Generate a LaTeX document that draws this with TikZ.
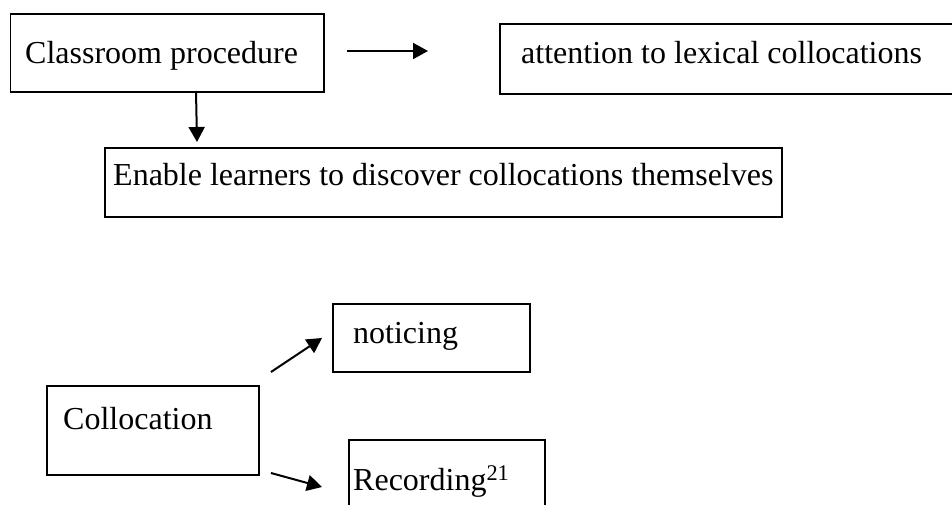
\documentclass[tikz,border=0pt]{standalone}
\usepackage{fontspec}
\setmainfont{Liberation Serif}
\usetikzlibrary{arrows.meta}
\begin{document}
\begin{tikzpicture}[x=1pt,y=-1pt,
  box/.style={draw, line width=1.5pt, inner sep=0pt, anchor=north west},
  lbl/.style={anchor=base west, inner sep=0pt, font=\fontsize{32}{38}\selectfont},
  conn/.style={line width=2pt, -{Triangle[length=15pt,width=16pt]}}]
\useasboundingbox (0,0) rectangle (952,504);
\fill[white] (0,0) rectangle (952,504);
% boxes
\node[box, minimum width=313.5pt, minimum height=78pt] (cls) at (9.5,13) {};
\node[box, minimum width=470pt, minimum height=70pt] (att) at (499,23) {};
\node[box, minimum width=677pt, minimum height=69pt] (enb) at (104,147) {};
\node[box, minimum width=197pt, minimum height=68pt] (ntc) at (332,303) {};
\node[box, minimum width=212pt, minimum height=89pt] (col) at (46,385) {};
\node[box, minimum width=196pt, minimum height=75pt] (rec) at (348,439) {};
% texts
\node[lbl] (clsT) at (25,63) {Classroom procedure};
\node[lbl] (attT) at (521,63) {attention to lexical collocations};
\node[lbl] (enbT) at (113,185) {Enable learners to discover collocations themselves};
\node[lbl] (ntcT) at (353,343) {noticing};
\node[lbl] (colT) at (63,429) {Collocation};
\node[lbl] (recT) at (353,490) {Recording\textsuperscript{21}};
% arrow ends
\coordinate (a1s) at (347,51);
\coordinate (a1e) at (428,51);
\coordinate (a2s) at (196,91);
\coordinate (a2e) at (197,142);
\coordinate (a3s) at (271,372);
\coordinate (a3e) at (322,338);
\coordinate (a4s) at (271,473);
\coordinate (a4e) at (322,487);
\draw[conn] (a1s) -- (a1e);
\draw[conn] (a2s) -- (a2e);
\draw[conn] (a3s) -- (a3e);
\draw[conn] (a4s) -- (a4e);
\end{tikzpicture}
\end{document}
